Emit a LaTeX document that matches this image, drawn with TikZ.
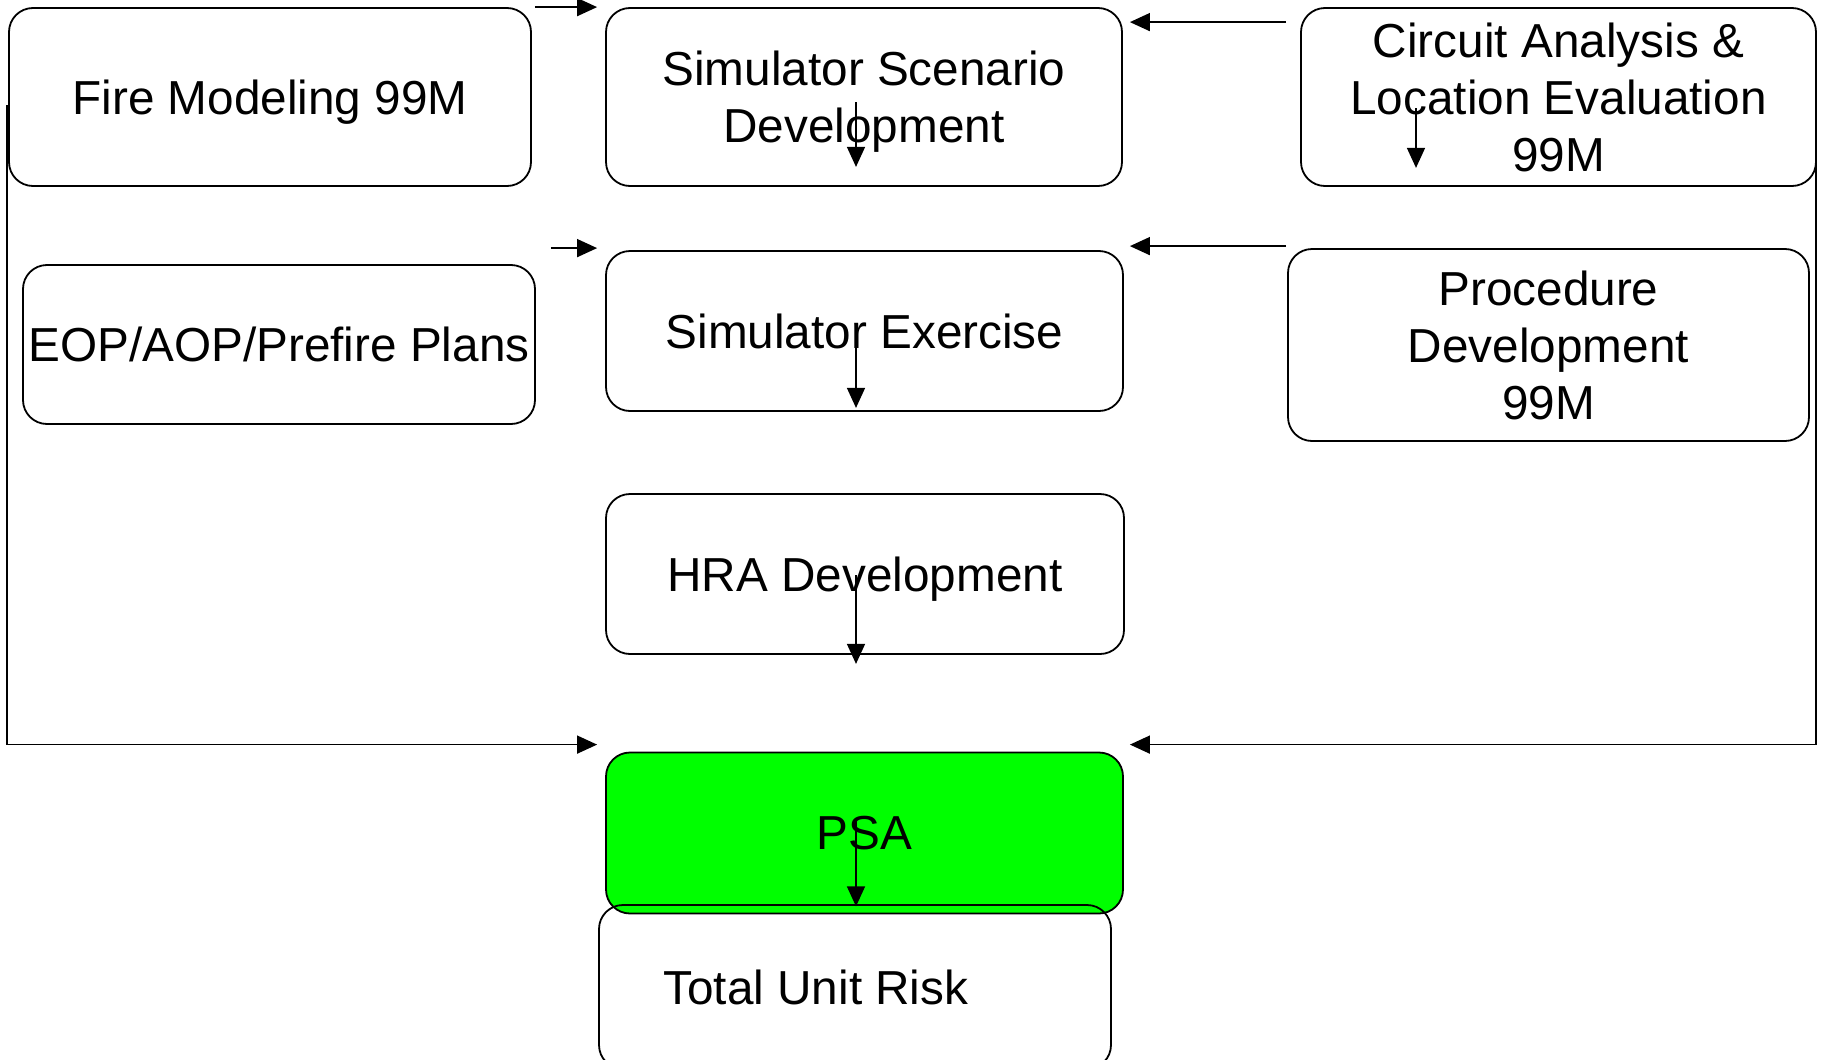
\documentclass[tikz,border=0pt]{standalone}
\usepackage{fontspec}
\setmainfont{Liberation Sans}
\usetikzlibrary{arrows.meta,calc}
\begin{document}
\begin{tikzpicture}[x=0.5pt,y=-0.5pt,
  txt/.style={font=\fontsize{23.85}{28.5}\selectfont},
  box/.style={draw=black, line width=0.9pt, rounded corners=12pt, align=center, inner sep=0pt, text depth=0pt, txt},
  lbl/.style={inner sep=0pt, txt},
  arr/.style={draw=black, line width=0.75pt, -{Triangle[length=10pt,width=9pt]}}]
\useasboundingbox (0,0) rectangle (1821,1060);
\clip (0,0) rectangle (1821,1060);
\fill[white] (0,0) rectangle (1821,1060);

% left column
\node[box, minimum width=261pt, minimum height=89pt] (fire) at (270,97) {Fire Modeling 99M};
\node[box, minimum width=256pt, minimum height=79.5pt] (eop) at (279,344.5) {EOP/AOP/Prefire Plans};

% centre column
\node[box, minimum width=258pt, minimum height=89pt] (scen) at (864,97) {Simulator Scenario\\Development};
\node[box, minimum width=258.5pt, minimum height=80pt] (exer) at (864.5,331) {Simulator Exercise};
\node[box, minimum width=259pt, minimum height=80pt] (hra) at (865,574) {HRA Development};
\node[box, fill={rgb,255:red,0;green,255;blue,0}, minimum width=258.5pt, minimum height=80.5pt] (psa) at (864.5,833) {PSA};
\node[box, minimum width=256pt, minimum height=82pt] (tur) at (855,987) {};
\node[lbl, anchor=west] (turtext) at ($(tur.west)+(65,0)$) {Total Unit Risk};

% right column
\node[box, minimum width=257.5pt, minimum height=89pt] (circ) at (1558.5,97) {Circuit Analysis \&\\Location Evaluation\\99M};
\node[box, minimum width=260.5pt, minimum height=96pt] (proc) at (1548.5,345) {Procedure\\Development\\99M};

% horizontal inputs to the centre column
\draw[arr] ($(fire.north east)+(3,0)$) -- ($(scen.north west)+(-8,0)$);
\draw[arr] ($(eop.north east)+(15,-16)$) -- ($(exer.north west)+(-8,-2)$);
\draw[arr] ($(circ.north west)+(-14,15)$) -- ($(scen.north east)+(7,15)$);
\draw[arr] ($(proc.north west)+(-1,-2)$) -- ($(exer.north east)+(6,-4)$);

% long feeds into the PSA
\draw[arr] ($(fire.west)+(-1,8)$) |- ($(psa.north west)+(-8,-7)$);
\draw[arr] ($(circ.east)+(-1,8)$) |- ($(psa.north east)+(6,-7)$);

% downward chain
\draw[arr] ($(scen.center)+(-8,5)$) -- ($(scen.south)+(-8,-20)$);
\draw[arr] ($(exer.center)+(-8.5,6)$) -- ($(exer.south)+(-8.5,-4)$);
\draw[arr] ($(hra.center)+(-9,1)$) -- ($(hra.south)+(-9,9)$);
\draw[arr] ($(psa.center)+(-8.5,-14)$) -- ($(psa.south)+(-8.5,-8)$);
\draw[arr] ($(circ.center)+(-142.5,11)$) -- ($(circ.south)+(-142.5,-19)$);
\end{tikzpicture}
\end{document}
